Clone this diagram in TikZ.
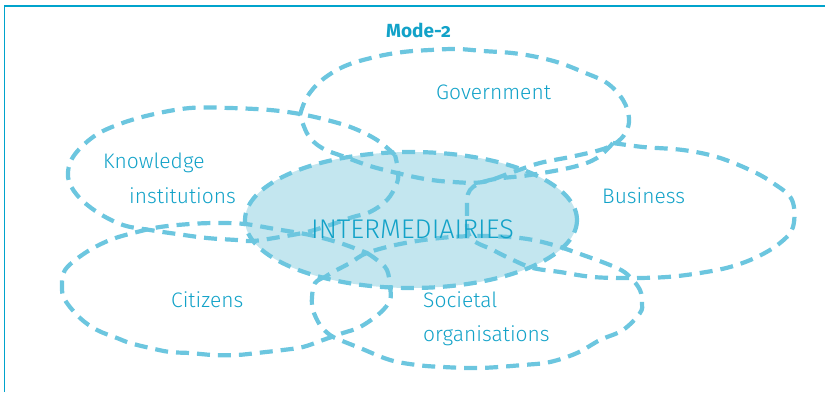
\documentclass[tikz,border=0pt]{standalone}
\usepackage{fontspec}
\setmainfont{Fira Sans Light}[BoldFont={Fira Sans Bold},Numbers=OldStyle]
\definecolor{dashc}{HTML}{6CC6DF}
\definecolor{fillc}{HTML}{C3E6EF}
\definecolor{textc}{HTML}{12A2C8}
\definecolor{framec}{HTML}{00A3CC}
\begin{document}
\begin{tikzpicture}[x=1pt,y=-1pt,
  blob/.style={draw=dashc,line width=4.2pt,dash pattern=on 13pt off 8pt},
  lbl/.style={anchor=base west,inner sep=0pt,text=textc,font=\fontsize{21}{24}\selectfont},
]
\useasboundingbox (0,0) rectangle (825,392);
\draw[framec,line width=1.6pt] (4.5,392) -- (4.5,6) -- (825,6);
% intermediaries
\path[fill=fillc] (411,220) ellipse [x radius=166,y radius=68];
\draw[blob] (411,220) ellipse [x radius=166,y radius=68];
% government
\draw[blob] plot[smooth,tension=0.6] coordinates {(300,115) (307,97) (322,80) (345,66) (375,57) (403,52) (430,50) (457,49) (483,51) (512,53) (537,57) (560,63) (583,72) (607,83) (623,100) (629,118) (626,132) (616,143) (600,150) (570,157) (540,163) (513,172) (483,182) (453,182) (425,179) (397,173) (370,166) (345,157) (322,148) (308,135) (300,115)};
% knowledge
\draw[blob] plot[smooth,tension=0.6] coordinates {(395,155) (377,140) (353,128) (327,120) (300,114) (270,110) (230,108) (190,108) (150,115) (117,125) (93,137) (73,157) (68,177) (77,195) (97,212) (123,225) (150,230) (177,234) (207,238) (237,240) (253,241) (280,237) (307,232) (330,225) (353,217) (370,212) (387,200) (397,183) (398,170) (395,155)};
% business
\draw[blob] plot[smooth,tension=0.6] coordinates {(613,143) (643,147) (683,150) (717,157) (750,170) (773,183) (792,200) (793,227) (780,243) (757,257) (730,267) (700,273) (667,277) (630,278) (593,277) (560,272) (533,268) (513,260) (493,250) (470,237) (467,210) (470,190) (490,180) (530,175) (573,167) (597,158) (613,143)};
% citizens
\draw[blob] plot[smooth,tension=0.6] coordinates {(367,253) (377,260) (387,270) (390,287) (390,300) (380,313) (360,327) (343,333) (323,340) (303,347) (283,350) (257,353) (237,355) (213,355) (190,353) (170,352) (150,348) (130,343) (117,338) (97,330) (80,318) (65,300) (62,287) (65,270) (85,253) (110,240) (137,232) (160,227) (190,224) (217,223) (245,224) (275,229) (310,235) (340,243) (367,253)};
% societal
\draw[blob] plot[smooth,tension=0.6] coordinates {(325,277) (315,283) (312,297) (313,310) (320,325) (330,335) (340,340) (360,348) (390,360) (417,365) (443,367) (480,368) (523,365) (550,362) (577,353) (600,340) (623,330) (640,313) (642,303) (640,290) (630,277) (617,268) (583,255) (550,244) (520,238) (480,236) (440,238) (400,244) (367,253) (350,263) (333,272) (325,277)};
% labels
\node[anchor=base west,inner sep=0pt,text=textc,font=\bfseries\fontsize{19}{22}\selectfont] (mode) at (386,37) {Mode-2};
\node[lbl] (gov) at (436,99) {Government};
\node[lbl] (kn1) at (103,168) {Knowledge};
\node[lbl] (kn2) at (129,203) {institutions};
\node[lbl] (bus) at (602,203) {Business};
\node[lbl,font=\fontsize{27}{30}\selectfont] (int) at (311,238) {INTERMEDIAIRIES};
\node[lbl] (cit) at (171,307) {Citizens};
\node[lbl] (so1) at (423,307) {Societal};
\node[lbl] (so2) at (423,341) {organisations};
\end{tikzpicture}
\end{document}
